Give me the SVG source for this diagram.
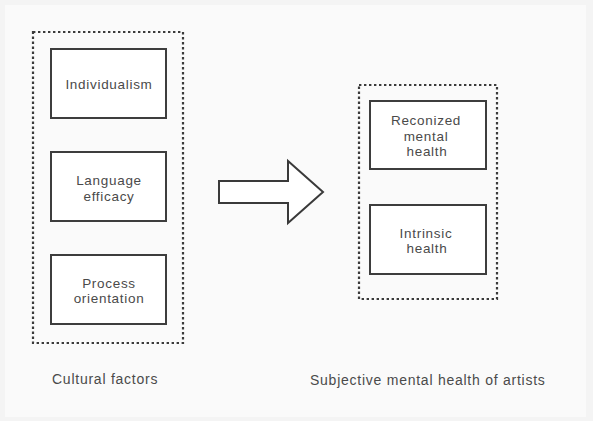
<svg xmlns="http://www.w3.org/2000/svg" width="593" height="421" viewBox="0 0 593 421">
  <style>
    .frame { fill: none; stroke: #3a3a3a; stroke-width: 2.2; stroke-dasharray: 2.4 2.6; }
    .box { fill: #ffffff; stroke: #3d3d3d; stroke-width: 2; }
    .label { font-family: "Liberation Sans", Arial, sans-serif; font-size: 13.5px; fill: #4a4a4a; letter-spacing: 0.7px; text-anchor: middle; }
    .caption { font-family: "Liberation Sans", Arial, sans-serif; font-size: 14px; fill: #4a4a4a; letter-spacing: 0.75px; }
  </style>
  <!-- page -->
  <rect x="0" y="0" width="593" height="421" fill="#f4f4f4"/>
  <rect x="5" y="5" width="581" height="412" fill="#fafafa"/>

  <!-- cultural factors group -->
  <g id="cultural-factors">
    <rect class="frame" x="33" y="32" width="150" height="311"/>
    <text class="caption" x="52" y="384">Cultural factors</text>
  </g>
  <g id="individualism">
    <rect class="box" x="51" y="49" width="115" height="69"/>
    <text class="label" x="109" y="89">Individualism</text>
  </g>
  <g id="language-efficacy">
    <rect class="box" x="51" y="152" width="115" height="69"/>
    <text class="label" x="109" y="185">Language</text>
    <text class="label" x="109" y="201">efficacy</text>
  </g>
  <g id="process-orientation">
    <rect class="box" x="51" y="255" width="115" height="69"/>
    <text class="label" x="109" y="288">Process</text>
    <text class="label" x="109" y="303">orientation</text>
  </g>

  <!-- subjective mental health group -->
  <g id="subjective-mental-health">
    <rect class="frame" x="359" y="85" width="138" height="214"/>
    <text class="caption" x="310" y="385">Subjective mental health of artists</text>
  </g>
  <g id="reconized-mental-health">
    <rect class="box" x="370" y="101" width="116" height="68"/>
    <text class="label" x="426" y="125">Reconized</text>
    <text class="label" x="426" y="141">mental</text>
    <text class="label" x="427" y="156">health</text>
  </g>
  <g id="intrinsic-health">
    <rect class="box" x="370" y="205" width="116" height="69"/>
    <text class="label" x="426" y="238">Intrinsic</text>
    <text class="label" x="427" y="253">health</text>
  </g>

  <!-- connectors -->
  <g id="connectors">
    <polygon points="219,181 288,181 288,161 323,192 288,223 288,203 219,203" fill="#ffffff" stroke="#3a3a3a" stroke-width="2" stroke-linejoin="miter"/>
  </g>
</svg>
